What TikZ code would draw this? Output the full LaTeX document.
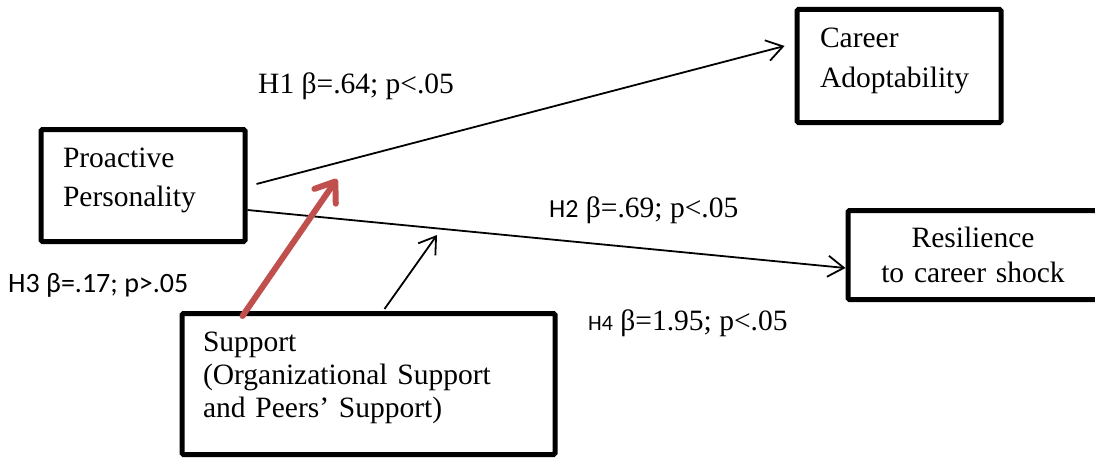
\documentclass[tikz,border=0pt]{standalone}
\usepackage{fontspec}
\setmainfont{Liberation Serif}
\newfontfamily\calibri{Carlito}
\usetikzlibrary{arrows.meta}

\definecolor{modred}{HTML}{C0504D}

\tikzset{
  factor/.style={draw, line width=5pt, rounded corners=1.5pt, align=left, inner ysep=0pt},
  effect/.style={line width=1.8pt, -{Straight Barb[length=16pt,width=21pt]}},
  coef/.style={anchor=base west, inner sep=0pt, font=\fontsize{29.5}{36}\selectfont},
}

\begin{document}
\begin{tikzpicture}[x=1pt,y=-1pt]
    % Frame of the picture
    \useasboundingbox (0,0) rectangle (1095,460);
    \clip (0,0) rectangle (1095,460);

    % Draw the four boxes
    \node[factor, minimum height=112pt, text width=160pt, inner xsep=22pt, text depth=55.5pt,
          font=\fontsize{29.5}{39}\selectfont] (pp) at (143,185.5) {Proactive\\Personality};
    \node[factor, minimum height=113pt, text width=158pt, inner xsep=23pt, text depth=56.5pt,
          font=\fontsize{29.5}{40}\selectfont] (ca) at (899,66) {Career\\Adoptability};
    \node[factor, align=center, minimum height=89pt, text width=230pt, inner xsep=10pt,
          font=\fontsize{29.5}{35}\selectfont] (rs) at (973,255) {Resilience\\to career shock};
    \node[factor, minimum height=141pt, text width=331pt, inner xsep=21pt, text depth=84.5pt,
          font=\fontsize{29.5}{33}\selectfont] (su) at (368.5,384) {Support\\(Organizational Support\\and Peers’ Support)};

    % Points where the support acts on the paths
    \coordinate (mod1) at (337,179);
    \coordinate (mod2) at (437,235);

    % Direct paths
    \draw[effect] ([xshift=9pt,yshift=1.5pt]pp.east) -- ([xshift=-10pt,yshift=20pt]ca.west);
    \draw[effect] ([yshift=-24.5pt]pp.east) -- ([yshift=-13pt]rs.west);

    % Moderating paths
    \draw[effect] ([xshift=205pt,yshift=2pt]su.north west) -- (mod2);
    \draw[modred, line width=6pt, line cap=round, -{Straight Barb[length=18pt,width=26pt,round]}]
        ([xshift=63pt,yshift=-5pt]su.north west) -- (mod1);

    % Add the coefficients
    \node[coef] (h1) at (258,93) {H1 β=.64; p<.05};
    \node[coef] (h2) at (549,217) {{\calibri\fontsize{26}{30}\selectfont H2} β=.69; p<.05};
    \node[coef, font=\calibri\fontsize{28}{34}\selectfont] (h3) at (8,292) {H3 β=.17; p>.05};
    \node[coef] (h4) at (588,330) {{\calibri\fontsize{22}{26}\selectfont H4} β=1.95; p<.05};
\end{tikzpicture}
\end{document}
